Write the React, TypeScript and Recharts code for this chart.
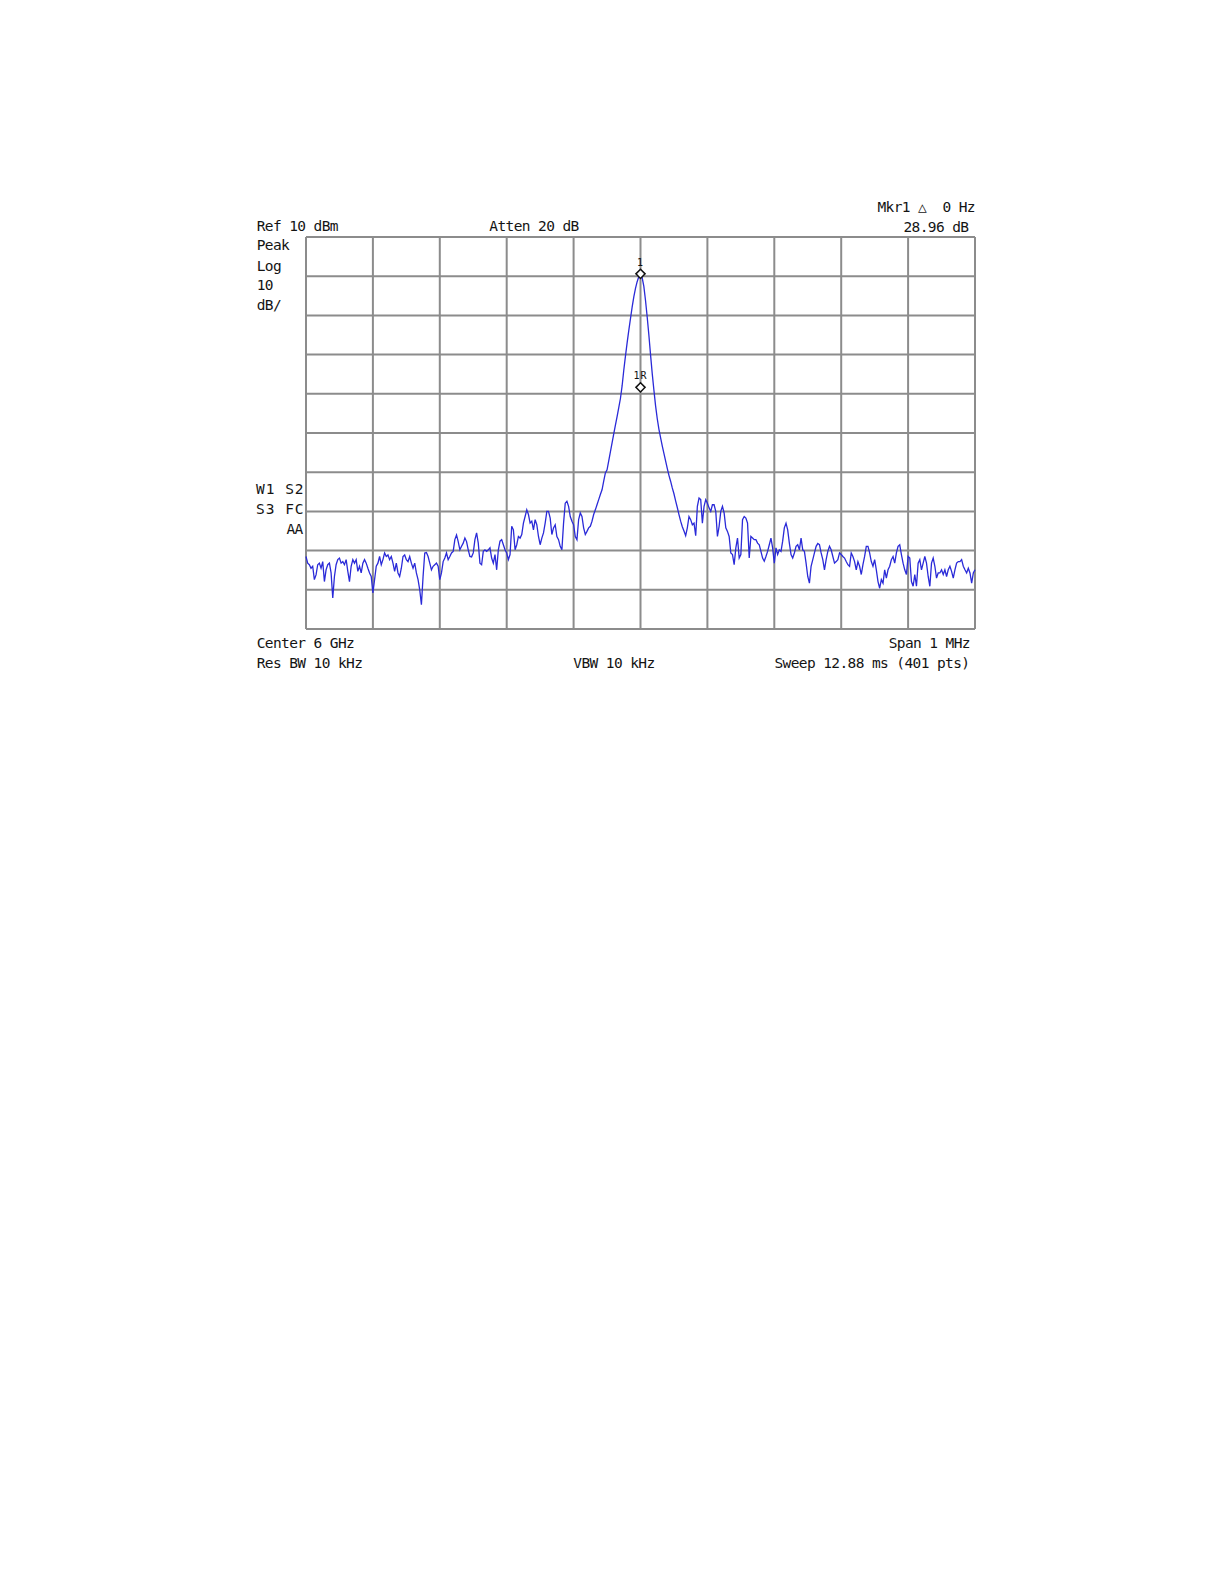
import React from "react";
import { LineChart, Line, XAxis, YAxis, CartesianGrid, ReferenceDot } from "recharts";

// sweep: center 6 GHz, span 1 MHz, 401 pts -> 2.5 kHz per point, offsets in kHz
const START_KHZ = -500;
const STEP_KHZ = 2.5;

const X_TICKS = [-500, -400, -300, -200, -100, 0, 100, 200, 300, 400, 500];
const Y_TICKS = [-90, -80, -70, -60, -50, -40, -30, -20, -10, 0, 10];

// trace in dBm, left to right
const NOISE_FAR_LEFT = [
  -71.5, -73.2, -73.6, -74.5, -74.0, -77.4, -76.2, -73.6, -73.2, -74.5,
  -72.8, -77.9, -74.9, -73.6, -73.2, -75.7, -82.1, -76.6, -73.6, -72.3,
  -71.9, -73.2, -72.8, -73.6, -72.3, -75.3, -77.9, -74.0, -72.3, -73.2,
  -72.3, -75.3, -74.0, -75.7, -73.2, -72.3, -73.2, -74.5, -75.7, -76.6,
  -80.8, -77.4, -74.0, -73.2, -71.5, -73.6, -72.3, -70.6, -71.5, -71.1,
  -72.3, -71.5, -73.2, -75.3, -73.2, -75.7, -76.6, -74.5, -71.5, -71.1,
  -72.3, -72.8, -71.5, -73.2, -74.5, -73.2, -75.7, -77.4, -80.0, -83.8,
  -76.6, -70.6, -70.5, -71.5, -73.2, -74.9, -74.0, -73.6, -73.2, -74.0,
  -77.4, -75.7, -72.8, -71.9, -70.6, -72.3, -71.5, -70.6, -70.2, -67.2,
  -66.0, -67.7, -69.8, -68.9, -68.1, -66.8, -67.7, -69.8,
];

const NOISE_NEAR_LEFT = [
  -71.5, -71.6, -70.6, -67.2, -65.5, -68.1, -73.2, -73.6, -70.2, -69.8,
  -70.2, -69.8, -69.3, -71.9, -73.2, -71.0, -74.9, -69.8, -67.6, -67.2,
  -68.5, -69.8, -70.6, -72.3, -71.0, -63.8, -64.7, -69.8, -68.5, -66.4,
  -66.8, -65.9, -63.0, -61.3, -59.6, -60.8, -63.0, -62.5, -64.7, -62.1,
  -63.4, -66.4, -68.5, -66.8, -65.5, -63.0, -60.0, -60.0, -61.7, -65.9,
  -64.2, -63.4, -66.4, -67.2, -68.9, -69.8, -63.0, -57.9, -57.4, -58.7,
  -61.3, -62.5, -63.4, -66.4, -67.2, -62.1, -60.4, -61.3, -64.2, -65.9,
  -65.1, -64.2, -63.8, -62.5, -60.8, -59.6, -58.3, -57.0, -55.7, -54.5,
  -52.3, -50.2,
];

const CARRIER = [
  -49.4, -47.1, -44.8, -42.5, -40.2, -38.0, -35.8, -33.5, -31.2, -28.0,
  -24.0, -20.4, -17.0, -13.8, -10.8, -7.9, -5.3, -3.1, -1.4, -0.1,
  0.6, -0.4, -2.6, -6.2, -10.4, -15.0, -20.0, -24.8, -29.0, -33.0,
  -36.3, -39.0, -41.2, -43.3, -45.2, -47.1, -49.0, -50.8, -52.3, -54.0,
  -55.5, -57.3, -59.0, -60.8, -62.5, -63.9, -65.0, -66.2,
];

const NOISE_NEAR_RIGHT = [
  -64.2, -61.3, -62.1, -63.4, -63.0, -66.2, -58.7, -56.6, -57.0, -63.0,
  -58.7, -57.0, -57.9, -59.1, -60.0, -58.3, -58.3, -60.0, -66.4, -63.8,
  -60.0, -58.7, -60.4, -64.2, -65.1, -66.4, -70.6, -71.0, -73.6, -69.3,
  -66.8, -71.9, -71.0, -62.1, -61.3, -61.7, -63.0, -71.9, -66.4, -66.8,
  -67.2, -67.2, -68.1, -68.5, -70.2, -71.9, -72.7, -71.5, -70.2, -68.5,
  -66.8, -69.3, -73.2, -69.3, -71.0, -69.8, -70.2, -67.6, -64.2, -63.0,
  -64.7, -68.1, -71.0, -71.9, -70.6, -68.9, -68.5, -69.8, -66.8, -69.8,
];

const NOISE_FAR_RIGHT = [
  -70.2, -73.2, -76.6, -78.3, -74.0, -72.3, -70.6, -68.9, -68.2, -68.5,
  -70.6, -72.3, -74.9, -72.3, -70.2, -68.9, -69.8, -71.5, -73.2, -72.8,
  -72.3, -70.6, -71.0, -71.5, -71.9, -72.8, -73.6, -74.0, -70.6, -71.5,
  -72.8, -74.9, -72.8, -74.0, -76.1, -73.6, -71.5, -68.9, -68.9, -70.6,
  -72.8, -74.0, -72.3, -74.9, -77.9, -79.6, -77.4, -78.3, -74.9, -77.0,
  -74.9, -74.0, -72.3, -71.5, -73.2, -70.6, -68.9, -68.5, -71.0, -73.2,
  -74.9, -76.1, -71.5, -71.9, -77.9, -79.1, -76.1, -79.1, -73.2, -72.3,
  -74.9, -73.2, -71.5, -73.2, -76.6, -79.1, -73.2, -71.9, -74.0, -77.0,
  -75.7, -75.7, -74.9, -76.1, -74.9, -76.6, -74.9, -74.0, -75.3, -77.0,
  -74.9, -73.2, -72.8, -72.8, -72.3, -74.0, -74.9, -75.7, -74.5, -75.7,
  -78.3, -75.7, -74.9,
];

// Mkr1 on the peak, 1R reference 28.96 dB below it
const MARKERS = [
  { label: "1", freq: 0, dbm: 0.6 },
  { label: "1R", freq: 0, dbm: -28.36 },
];

const trace = [...NOISE_FAR_LEFT, ...NOISE_NEAR_LEFT, ...CARRIER, ...NOISE_NEAR_RIGHT, ...NOISE_FAR_RIGHT];
const data = trace.map((dbm, i) => ({ freq: START_KHZ + i * STEP_KHZ, dbm }));

const FONT = "'DejaVu Sans Mono', 'Liberation Mono', monospace";
const textStyle: React.CSSProperties = {
  fontFamily: FONT,
  fontSize: 14.5,
  letterSpacing: -0.6,
  fill: "#141414",
  whiteSpace: "pre",
};

type Ann = { t: string; x: number; y: number; end?: boolean; len?: number };
const ANNOTATIONS: Ann[] = [
  { t: "Ref 10 dBm", x: 256.7, y: 231 },
  { t: "Atten 20 dB", x: 489.3, y: 231 },
  { t: "Peak", x: 256.7, y: 250 },
  { t: "Log", x: 256.7, y: 270.5 },
  { t: "10", x: 256.7, y: 290 },
  { t: "dB/", x: 256.7, y: 310 },
  { t: "Mkr1 \u25B3  0 Hz", x: 975, y: 211.7, end: true },
  { t: "28.96 dB", x: 968.5, y: 231.5, end: true },
  { t: "W1 S2", x: 256, y: 494, len: 47 },
  { t: "S3 FC", x: 256, y: 514, len: 47 },
  { t: "AA", x: 302.7, y: 534, end: true },
  { t: "Center 6 GHz", x: 256.7, y: 648.3 },
  { t: "Res BW 10 kHz", x: 256.7, y: 668.3 },
  { t: "VBW 10 kHz", x: 573.3, y: 668.3 },
  { t: "Span 1 MHz", x: 970, y: 648.3, end: true },
  { t: "Sweep 12.88 ms (401 pts)", x: 969.5, y: 668.3, end: true },
];

const markerShape = (label: string) => (props: any) => {
  const { cx, cy } = props;
  const s = 4.6;
  return (
    <g>
      <path
        d={`M${cx},${cy - s} L${cx + s},${cy} L${cx},${cy + s} L${cx - s},${cy} Z`}
        fill="#fff"
        stroke="#111"
        strokeWidth={1.5}
      />
      <text
        x={cx}
        y={cy - 8}
        textAnchor="middle"
        style={{ fontFamily: FONT, fontSize: 10, fill: "#111", letterSpacing: 1 }}
      >
        {label}
      </text>
    </g>
  );
};

const noTick = () => <g />;

export default function App() {
  return (
    <div style={{ position: "absolute", left: 0, top: 0, width: 1224, height: 1584, background: "#fff" }}>
      <div style={{ position: "absolute", left: 0, top: 0 }}>
        <LineChart
          width={1224}
          height={700}
          data={data}
          margin={{ top: 237, left: 306, right: 249, bottom: 71 }}
        >
          <CartesianGrid
            stroke="#8c8c8c"
            strokeWidth={2}
            verticalValues={X_TICKS}
            horizontalValues={Y_TICKS}
          />
          <XAxis
            type="number"
            dataKey="freq"
            domain={[-500, 500]}
            ticks={X_TICKS}
            interval={0}
            height={0}
            tick={noTick}
            axisLine={false}
            tickLine={false}
          />
          <YAxis
            type="number"
            domain={[-90, 10]}
            ticks={Y_TICKS}
            interval={0}
            width={0}
            tick={noTick}
            axisLine={false}
            tickLine={false}
            allowDataOverflow
          />
          <Line
            type="linear"
            dataKey="dbm"
            stroke="#2a2ad8"
            strokeWidth={1.3}
            dot={false}
            activeDot={false}
            isAnimationActive={false}
          />
          {MARKERS.map((m) => (
            <ReferenceDot key={m.label} x={m.freq} y={m.dbm} r={5} shape={markerShape(m.label)} />
          ))}
        </LineChart>
      </div>
      <svg
        width={1224}
        height={700}
        style={{ position: "absolute", left: 0, top: 0, pointerEvents: "none" }}
      >
        {ANNOTATIONS.map((a) => (
          <text
            key={a.t}
            x={a.x}
            y={a.y}
            textAnchor={a.end ? "end" : "start"}
            textLength={a.len}
            lengthAdjust={a.len ? "spacing" : undefined}
            style={textStyle}
          >
            {a.t}
          </text>
        ))}
      </svg>
    </div>
  );
}
